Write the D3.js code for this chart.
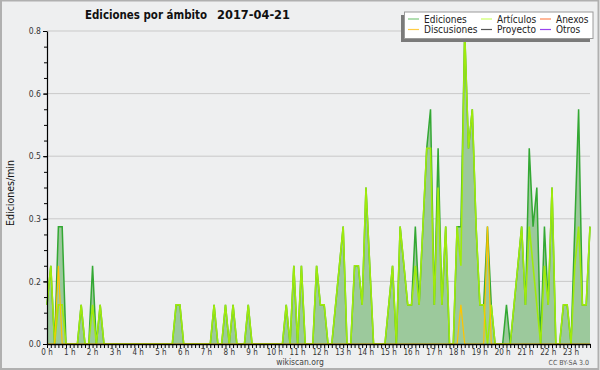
<!DOCTYPE html>
<html>
<head>
<meta charset="utf-8">
<script src="https://cdn.jsdelivr.net/npm/d3@7/dist/d3.min.js"></script>
<style>
    body { margin: 0; background: #ffffff; }
    #chart text { font-family: "DejaVu Sans Condensed", "DejaVu Sans", sans-serif; font-stretch: condensed; }
</style>
</head>
<body>
<div id="chart"></div>
<script>

// Ediciones por minuto, one row per hour (10 minute steps)
const ediciones = [
    0.1, 0.2, 0, 0.3, 0.3, 0,      // 0 h
    0, 0, 0, 0.1, 0, 0,            // 1 h
    0.2, 0, 0.1, 0, 0, 0,          // 2 h
    0, 0, 0, 0, 0, 0,              // 3 h
    0, 0, 0, 0, 0, 0,              // 4 h
    0, 0, 0, 0, 0.1, 0.1,          // 5 h
    0, 0, 0, 0, 0, 0,              // 6 h
    0, 0, 0.1, 0, 0, 0.1,          // 7 h
    0, 0.1, 0, 0, 0, 0.1,          // 8 h
    0, 0, 0, 0, 0, 0,              // 9 h
    0, 0, 0, 0.1, 0, 0.2,          // 10 h
    0, 0.2, 0, 0, 0, 0.2,          // 11 h
    0.1, 0.1, 0, 0, 0.1, 0.2,      // 12 h
    0.3, 0, 0, 0.2, 0.2, 0.1,      // 13 h
    0.4, 0.2, 0, 0, 0, 0,          // 14 h
    0.1, 0.2, 0, 0.3, 0.2, 0.1,    // 15 h
    0.1, 0.3, 0.1, 0.3, 0.5, 0.6,  // 16 h
    0.1, 0.5, 0.1, 0.3, 0, 0,      // 17 h
    0.3, 0.3, 0.8, 0.5, 0.6, 0.3,  // 18 h
    0.1, 0.1, 0.3, 0.1, 0, 0,      // 19 h
    0, 0.1, 0, 0.1, 0.2, 0.3,      // 20 h
    0.1, 0.5, 0.3, 0.4, 0, 0.3,    // 21 h
    0.1, 0.4, 0, 0, 0.1, 0.1,      // 22 h
    0, 0.3, 0.6, 0.1, 0.1, 0.3     // 23 h
];

const articulos = [
    0.1, 0.2, 0, 0.1, 0.1, 0,
    0, 0, 0, 0.1, 0, 0,
    0.1, 0, 0.1, 0, 0, 0,
    0, 0, 0, 0, 0, 0,
    0, 0, 0, 0, 0, 0,
    0, 0, 0, 0, 0.1, 0.1,
    0, 0, 0, 0, 0, 0,
    0, 0, 0.1, 0, 0, 0.1,
    0, 0.1, 0, 0, 0, 0.1,
    0, 0, 0, 0, 0, 0,
    0, 0, 0, 0.1, 0, 0.2,
    0, 0.2, 0, 0, 0, 0.2,
    0.1, 0.1, 0, 0, 0.1, 0.2,
    0.3, 0, 0, 0.2, 0.2, 0.1,
    0.4, 0.2, 0, 0, 0, 0,
    0.1, 0.2, 0, 0.3, 0.2, 0.1,
    0.1, 0.2, 0.1, 0.3, 0.5, 0.5,
    0.1, 0.4, 0.1, 0.3, 0, 0,
    0.3, 0.2, 0.8, 0.5, 0.6, 0.3,
    0.1, 0.1, 0, 0.1, 0, 0,
    0, 0, 0, 0.1, 0.2, 0.3,
    0.1, 0.3, 0.2, 0.1, 0, 0.2,
    0.1, 0.4, 0, 0, 0.1, 0.1,
    0, 0.2, 0.3, 0.1, 0.1, 0.3
];

const discusiones = [
    0, 0, 0, 0.2, 0, 0,
    0, 0, 0, 0, 0, 0,
    0, 0, 0, 0, 0, 0,
    0, 0, 0, 0, 0, 0,
    0, 0, 0, 0, 0, 0,
    0, 0, 0, 0, 0, 0,
    0, 0, 0, 0, 0, 0,
    0, 0, 0, 0, 0, 0,
    0, 0, 0, 0, 0, 0,
    0, 0, 0, 0, 0, 0,
    0, 0, 0, 0, 0, 0,
    0, 0, 0, 0, 0, 0,
    0, 0, 0, 0, 0, 0,
    0, 0, 0, 0, 0, 0,
    0, 0, 0, 0, 0, 0,
    0, 0, 0, 0, 0, 0,
    0, 0, 0, 0, 0, 0,
    0, 0, 0, 0, 0, 0,
    0, 0.1, 0, 0, 0, 0,
    0, 0, 0.3, 0, 0, 0,
    0, 0, 0, 0, 0, 0,
    0, 0, 0, 0, 0, 0,
    0, 0, 0, 0, 0, 0,
    0, 0, 0, 0, 0, 0
];

const hourLabels = ['0 h', '1 h', '2 h', '3 h', '4 h', '5 h', '6 h', '7 h', '8 h', '9 h', '10 h', '11 h',
    '12 h', '13 h', '14 h', '15 h', '16 h', '17 h', '18 h', '19 h', '20 h', '21 h', '22 h', '23 h'];

const yTicks = [0, 0.16, 0.32, 0.48, 0.64, 0.8];

const legendNames = [['Ediciones', 'Artículos', 'Anexos'], ['Discusiones', 'Proyecto', 'Otros']];
const legendColors = [['#7dc97d', '#ccff66', '#ff8855'], ['#ffcc44', '#555555', '#9944ee']];


class AreaChart {
    constructor(parentElement) {
        this.parentElement = parentElement;
        this.initVis();
    }

    initVis() {
        let vis = this;

        vis.margin = {top: 31, right: 10, bottom: 26, left: 47};
        vis.width = 600 - vis.margin.left - vis.margin.right;
        vis.height = 370 - vis.margin.top - vis.margin.bottom;

        vis.svg = d3.select('#' + vis.parentElement).append('svg')
            .attr('width', 600)
            .attr('height', 370);

        // background and frame
        vis.svg.append('rect')
            .attr('x', 1).attr('y', 0.5)
            .attr('width', 597.5).attr('height', 368.5)
            .attr('fill', '#eeeff0')
            .attr('stroke', '#b0b0b0')
            .attr('stroke-width', 2);

        vis.g = vis.svg.append('g')
            .attr('transform', `translate(${vis.margin.left}, ${vis.margin.top})`);

        vis.x = d3.scaleLinear()
            .domain([0, ediciones.length - 1])
            .range([0, vis.width]);

        vis.y = d3.scaleLinear()
            .domain([0, 0.8])
            .range([vis.height, 0]);

        // grid
        vis.g.selectAll('.grid')
            .data(yTicks.slice(1))
            .enter().append('line')
            .attr('class', 'grid')
            .attr('x1', 0).attr('x2', vis.width)
            .attr('y1', d => vis.y(d)).attr('y2', d => vis.y(d))
            .attr('stroke', '#c9c9c9')
            .attr('stroke-width', 1);

        // title
        let title = vis.svg.append('text')
            .attr('y', 19)
            .attr('font-weight', 'bold')
            .attr('font-size', 12.5)
            .attr('fill', '#111');
        title.append('tspan').attr('x', 85).attr('textLength', 122)
            .attr('lengthAdjust', 'spacingAndGlyphs').text('Ediciones por ámbito');
        title.append('tspan').attr('x', 217).attr('textLength', 73)
            .attr('lengthAdjust', 'spacingAndGlyphs').text('2017-04-21');

        // y label
        vis.svg.append('text')
            .attr('transform', 'translate(14, 193) rotate(-90)')
            .attr('text-anchor', 'middle')
            .attr('font-size', 10.5)
            .attr('fill', '#111')
            .text('Ediciones/min');

        // footer
        vis.svg.append('text')
            .attr('x', 300).attr('y', 365)
            .attr('text-anchor', 'middle')
            .attr('font-size', 8.5)
            .attr('fill', '#444')
            .text('wikiscan.org');

        vis.svg.append('text')
            .attr('x', 589).attr('y', 365)
            .attr('text-anchor', 'end')
            .attr('font-size', 7)
            .attr('fill', '#555')
            .text('CC BY-SA 3.0');

        vis.updateVis();
    }

    updateVis() {
        let vis = this;

        let area = d3.area()
            .x((d, i) => vis.x(i))
            .y0(vis.height)
            .y1(d => vis.y(d));

        let line = d3.line()
            .x((d, i) => vis.x(i))
            .y(d => vis.y(d));

        vis.g.append('path')
            .datum(ediciones)
            .attr('fill', '#9cc99c')
            .attr('d', area);

        vis.g.append('path')
            .datum(ediciones)
            .attr('fill', 'none')
            .attr('stroke', '#33a833')
            .attr('stroke-width', 1.5)
            .attr('d', line);

        vis.g.append('path')
            .datum(articulos)
            .attr('fill', 'none')
            .attr('stroke', '#9fea0c')
            .attr('stroke-width', 1.6)
            .attr('d', line);

        vis.g.append('path')
            .datum(discusiones)
            .attr('fill', 'none')
            .attr('stroke', '#ffc400')
            .attr('stroke-width', 1.2)
            .attr('d', line);

        // x axis, a tick every 10 minutes
        let xAxis = vis.g.append('g')
            .attr('transform', `translate(0, ${vis.height})`)
            .call(d3.axisBottom(vis.x)
                .tickValues(d3.range(0, ediciones.length))
                .tickSize(4)
                .tickSizeOuter(0)
                .tickFormat(''));
        xAxis.select('.domain').attr('stroke', '#000').attr('stroke-width', 1.5);
        xAxis.selectAll('.tick line').attr('stroke', '#000');

        vis.g.selectAll('.hour-label')
            .data(hourLabels)
            .enter().append('text')
            .attr('class', 'hour-label')
            .attr('x', (d, i) => vis.x(i * 6))
            .attr('y', vis.height + 10.5)
            .attr('text-anchor', 'middle')
            .attr('font-size', 8)
            .attr('fill', '#333')
            .text(d => d);

        // y axis: minor ticks then labelled ticks
        let yMinor = vis.g.append('g')
            .call(d3.axisLeft(vis.y)
                .tickValues(d3.range(0, 21).map(k => k * 0.04))
                .tickSize(3)
                .tickSizeOuter(0)
                .tickFormat(''));
        yMinor.select('.domain').attr('stroke', '#000').attr('stroke-width', 1.2);
        yMinor.selectAll('.tick line').attr('stroke', '#000');

        let yMajor = vis.g.append('g')
            .call(d3.axisLeft(vis.y)
                .tickValues(yTicks)
                .tickSize(4)
                .tickPadding(2)
                .tickFormat(d3.format('.1f')));
        yMajor.select('.domain').remove();
        yMajor.selectAll('.tick line').attr('stroke', '#000');
        yMajor.selectAll('.tick text')
            .attr('font-size', 8.5)
            .attr('font-family', null)
            .attr('fill', '#333');

        vis.drawLegend();
    }

    drawLegend() {
        let vis = this;

        let legend = vis.svg.append('g').attr('class', 'legend');

        legend.append('rect')
            .attr('x', 401).attr('y', 15)
            .attr('width', 189).attr('height', 27)
            .attr('fill', '#7a7a7a');

        legend.append('rect')
            .attr('x', 404.5).attr('y', 12)
            .attr('width', 188.5).attr('height', 26.5)
            .attr('fill', '#ffffff')
            .attr('stroke', '#9a9a9a')
            .attr('stroke-width', 1);

        let colX = [408, 481, 540];
        let rowY = [19, 29.5];

        legendNames.forEach((row, r) => {
            row.forEach((name, c) => {
                legend.append('line')
                    .attr('x1', colX[c]).attr('x2', colX[c] + 11)
                    .attr('y1', rowY[r]).attr('y2', rowY[r])
                    .attr('stroke', legendColors[r][c])
                    .attr('stroke-width', 1.2);
                legend.append('text')
                    .attr('x', colX[c] + 16)
                    .attr('y', rowY[r] + 3.5)
                    .attr('font-size', 10)
                    .attr('fill', '#222')
                    .text(name);
            });
        });
    }
}

document.addEventListener('DOMContentLoaded', function () {
    new AreaChart('chart');
});
</script>
</body>
</html>
